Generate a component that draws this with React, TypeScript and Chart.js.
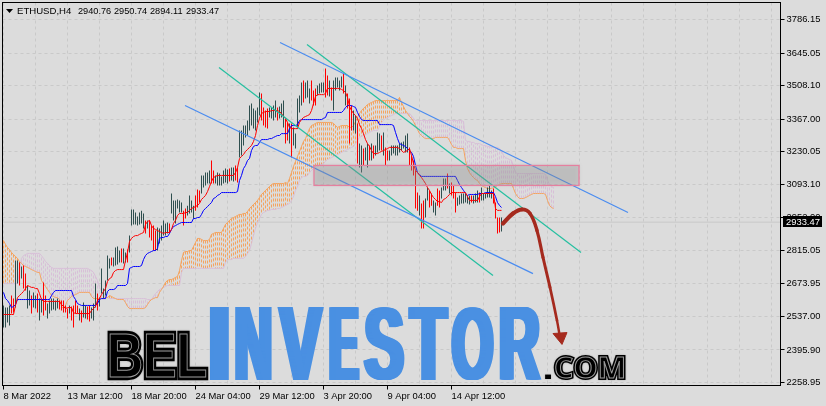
import React, { useEffect, useRef } from "react";
import { Chart, registerables } from "chart.js";

Chart.register(...registerables);

const symbolTitle = "ETHUSD,H4";
const quoteValues = ["2940.76", "2950.74", "2894.11", "2933.47"];
const lastPrice = 2933.47;
const priceTicks = [2258.95, 2395.9, 2537, 2673.95, 2815.05, 2952, 3093.1, 3230.05, 3367, 3508.1, 3645.05, 3786.15];
const timeLabels = ["8 Mar 2022", "13 Mar 12:00", "18 Mar 20:00", "24 Mar 04:00", "29 Mar 12:00", "3 Apr 20:00", "9 Apr 04:00", "14 Apr 12:00"];

const barHighs = [
  2583, 2574, 2574, 2583, 2625, 2612, 2772, 2772, 2764, 2747,
  2751, 2717, 2667, 2646, 2625, 2638, 2625, 2633, 2612, 2612,
  2680, 2625, 2591, 2604, 2612, 2612, 2604, 2612, 2604, 2604,
  2604, 2583, 2570, 2583, 2579, 2583, 2604, 2583, 2570, 2562,
  2595, 2583, 2579, 2583, 2574, 2591, 2675, 2633, 2616, 2738,
  2654, 2688, 2793, 2781, 2785, 2785, 2827, 2831, 2814, 2823,
  2823, 2806, 2818, 2877, 2987, 2987, 2974, 2957, 2974, 2982,
  2970, 2940, 2940, 2940, 2919, 2919, 2898, 2911, 2907, 2919,
  2940, 2928, 2932, 2928, 3054, 3025, 3025, 3029, 3025, 3016,
  2982, 2991, 3003, 3046, 3025, 3003, 3046, 3071, 3067, 3130,
  3130, 3142, 3142, 3151, 3193, 3151, 3130, 3142, 3138, 3126,
  3151, 3159, 3155, 3159, 3163, 3163, 3172, 3163, 3319, 3319,
  3340, 3340, 3361, 3424, 3433, 3412, 3403, 3416, 3479, 3475,
  3416, 3403, 3412, 3416, 3416, 3424, 3445, 3416, 3420, 3433,
  3445, 3370, 3353, 3349, 3349, 3332, 3306, 3454, 3466, 3521,
  3529, 3521, 3529, 3496, 3529, 3487, 3496, 3508, 3517, 3521,
  3521, 3580, 3550, 3529, 3500, 3529, 3542, 3542, 3529, 3546,
  3559, 3508, 3475, 3454, 3424, 3403, 3382, 3349, 3264, 3256,
  3243, 3248, 3264, 3256, 3264, 3256, 3256, 3311, 3306, 3298,
  3311, 3248, 3235, 3235, 3256, 3256, 3256, 3256, 3264, 3269,
  3273, 3298, 3306, 3248, 3214, 3193, 3151, 3058, 3046, 3012,
  3025, 3033, 3079, 3067, 3054, 3025, 3016, 3075, 3067, 3079,
  3117, 3117, 3138, 3096, 3100, 3088, 3058, 3037, 3046, 3054,
  3054, 3054, 3046, 3046, 3046, 3046, 3054, 3067, 3058, 3079,
  3054, 3054, 3079, 3088, 3067, 3075, 3016, 2953, 2953, 2953,
];

const barLows = [
  2490, 2490, 2511, 2499, 2549, 2553, 2574, 2675, 2667, 2696,
  2654, 2646, 2570, 2583, 2549, 2574, 2570, 2553, 2520, 2553,
  2541, 2562, 2528, 2549, 2562, 2566, 2562, 2570, 2566, 2562,
  2553, 2553, 2528, 2549, 2520, 2490, 2549, 2549, 2520, 2511,
  2532, 2528, 2524, 2516, 2528, 2520, 2574, 2562, 2579, 2633,
  2612, 2625, 2688, 2738, 2751, 2747, 2751, 2755, 2764, 2764,
  2760, 2764, 2764, 2806, 2919, 2924, 2924, 2919, 2924, 2928,
  2907, 2886, 2907, 2869, 2856, 2814, 2814, 2814, 2844, 2856,
  2877, 2877, 2886, 2886, 2970, 2940, 2928, 2991, 2974, 2974,
  2919, 2949, 2961, 2970, 2974, 2949, 2982, 2995, 3016, 3054,
  3079, 3088, 3096, 3096, 3096, 3096, 3096, 3088, 3088, 3088,
  3096, 3100, 3096, 3105, 3109, 3105, 3109, 3100, 3205, 3214,
  3256, 3290, 3298, 3319, 3340, 3327, 3319, 3353, 3382, 3361,
  3340, 3332, 3327, 3374, 3370, 3361, 3374, 3361, 3370, 3374,
  3332, 3264, 3277, 3264, 3205, 3256, 3243, 3327, 3395, 3424,
  3437, 3454, 3458, 3433, 3445, 3424, 3424, 3466, 3475, 3479,
  3479, 3458, 3466, 3462, 3445, 3403, 3487, 3500, 3487, 3500,
  3475, 3424, 3412, 3264, 3319, 3319, 3306, 3180, 3163, 3142,
  3172, 3193, 3163, 3193, 3193, 3201, 3214, 3227, 3235, 3235,
  3214, 3172, 3193, 3193, 3214, 3222, 3214, 3214, 3227, 3235,
  3243, 3227, 3227, 3172, 3151, 3130, 2991, 2982, 2961, 2907,
  2907, 2953, 3025, 2995, 3003, 2974, 2961, 3003, 2995, 3033,
  3067, 3067, 3075, 3054, 3046, 3033, 2974, 3003, 3008, 3012,
  3012, 3016, 3012, 3008, 3016, 3012, 3016, 3016, 3016, 3025,
  3025, 3033, 3037, 3037, 3033, 3012, 2949, 2886, 2890, 2894,
];

const barDirections = (
  "ddddrrddrd" + "rrddrddrdd" + "rrddddddrr" + "rrrdrrrrdr" + "ddrrdddrdd" +
  "ddddrddddr" + "ddrddddddd" + "drdrrrrddd" + "dddrdddddd" + "rrddddrrrd" +
  "ddddrrdddd" + "dddrddrrdd" + "dddddddddr" + "rrrddddrdd" + "drrdrddddd" +
  "rdddrrrddd" + "drrdrddddd" + "rdrrrddrdd" + "rddrdrdddr" + "drrddddddd" +
  "dddrrrrrdr" + "rddrrddrrd" + "ddrdrrrddd" + "ddddrdddrd" + "dddddrrrrd"
).split("");

const tenkan = [
  2545, 2545, 2545, 2545, 2545, 2545, 2583, 2616, 2625, 2633,
  2642, 2654, 2667, 2663, 2659, 2659, 2654, 2654, 2633, 2608,
  2600, 2600, 2600, 2600, 2600, 2600, 2600, 2600, 2600, 2587,
  2579, 2570, 2574, 2574, 2574, 2553, 2549, 2549, 2549, 2549,
  2549, 2549, 2549, 2549, 2562, 2570, 2579, 2604, 2612, 2629,
  2642, 2654, 2684, 2696, 2701, 2722, 2730, 2734, 2734, 2734,
  2734, 2772, 2806, 2852, 2865, 2873, 2877, 2877, 2882, 2886,
  2890, 2924, 2936, 2941, 2919, 2907, 2903, 2898, 2894, 2890,
  2886, 2890, 2890, 2890, 2903, 2928, 2941, 2962, 2970, 2970,
  2970, 2974, 2974, 2983, 2991, 2995, 2999, 3004, 3012, 3029,
  3037, 3046, 3062, 3083, 3105, 3121, 3126, 3130, 3130, 3130,
  3130, 3130, 3130, 3130, 3130, 3130, 3142, 3163, 3201, 3210,
  3218, 3231, 3239, 3248, 3256, 3273, 3298, 3340, 3370, 3391,
  3395, 3399, 3399, 3399, 3403, 3403, 3403, 3403, 3399, 3391,
  3378, 3370, 3353, 3332, 3327, 3327, 3327, 3327, 3353, 3365,
  3374, 3378, 3382, 3386, 3403, 3433, 3462, 3470, 3470, 3470,
  3470, 3475, 3496, 3496, 3496, 3496, 3496, 3496, 3496, 3492,
  3487, 3479, 3458, 3420, 3403, 3391, 3382, 3370, 3344, 3327,
  3306, 3281, 3264, 3252, 3235, 3222, 3222, 3222, 3227, 3231,
  3235, 3239, 3243, 3248, 3248, 3248, 3248, 3248, 3243, 3235,
  3227, 3231, 3235, 3243, 3214, 3180, 3151, 3142, 3130, 3121,
  3109, 3096, 3079, 3067, 3050, 3037, 3029, 3020, 3020, 3016,
  3029, 3033, 3041, 3050, 3058, 3058, 3058, 3058, 3058, 3058,
  3058, 3058, 3041, 3025, 3025, 3025, 3025, 3025, 3041, 3054,
  3054, 3054, 3054, 3054, 3054, 3054, 2991, 2983, 2983, 2983,
];

const kijun = [
  2638, 2612, 2604, 2591, 2574, 2579, 2587, 2608, 2608, 2608,
  2608, 2608, 2608, 2608, 2608, 2608, 2608, 2608, 2608, 2608,
  2608, 2608, 2608, 2608, 2625, 2638, 2646, 2646, 2646, 2646,
  2646, 2646, 2646, 2646, 2646, 2621, 2608, 2591, 2587, 2583,
  2583, 2583, 2583, 2583, 2583, 2583, 2583, 2591, 2608, 2612,
  2612, 2612, 2642, 2650, 2650, 2650, 2654, 2667, 2667, 2667,
  2667, 2667, 2675, 2739, 2743, 2747, 2747, 2747, 2747, 2751,
  2776, 2793, 2802, 2806, 2810, 2814, 2814, 2823, 2865, 2869,
  2869, 2873, 2873, 2886, 2903, 2915, 2919, 2924, 2928, 2932,
  2932, 2932, 2932, 2932, 2932, 2949, 2949, 2953, 2953, 2966,
  2983, 2991, 2999, 3008, 3016, 3033, 3037, 3046, 3050, 3058,
  3058, 3058, 3058, 3058, 3058, 3058, 3058, 3062, 3109, 3130,
  3159, 3172, 3193, 3201, 3235, 3252, 3256, 3256, 3269, 3281,
  3281, 3281, 3281, 3285, 3285, 3290, 3294, 3298, 3298, 3306,
  3306, 3306, 3306, 3327, 3340, 3340, 3340, 3344, 3361, 3365,
  3365, 3365, 3365, 3365, 3365, 3365, 3365, 3365, 3365, 3365,
  3370, 3374, 3395, 3395, 3395, 3395, 3395, 3395, 3395, 3395,
  3403, 3416, 3424, 3424, 3424, 3420, 3416, 3395, 3378, 3365,
  3361, 3361, 3361, 3361, 3361, 3361, 3361, 3361, 3344, 3344,
  3344, 3344, 3344, 3344, 3344, 3340, 3311, 3285, 3264, 3260,
  3256, 3252, 3243, 3235, 3227, 3210, 3172, 3142, 3134, 3126,
  3126, 3126, 3126, 3126, 3126, 3126, 3126, 3126, 3126, 3126,
  3126, 3126, 3126, 3126, 3126, 3126, 3126, 3109, 3092, 3079,
  3067, 3054, 3046, 3050, 3050, 3050, 3050, 3050, 3054, 3054,
  3054, 3058, 3058, 3058, 3058, 3058, 3041, 3016, 3004, 2995,
];

const senkouA = [
  2856, 2840, 2827, 2818, 2806, 2797, 2789, 2781, 2768, 2760,
  2751, 2747, 2743, 2739, 2734, 2730, 2726, 2722, 2722, 2688,
  2675, 2663, 2650, 2638, 2625, 2621, 2616, 2616, 2608, 2579,
  2570, 2583, 2604, 2612, 2621, 2625, 2629, 2633, 2638, 2638,
  2638, 2638, 2638, 2638, 2621, 2612, 2612, 2612, 2612, 2612,
  2612, 2616, 2616, 2625, 2621, 2616, 2612, 2608, 2608, 2608,
  2608, 2595, 2579, 2570, 2570, 2570, 2570, 2570, 2570, 2570,
  2570, 2574, 2587, 2600, 2608, 2612, 2616, 2616, 2638, 2650,
  2663, 2680, 2688, 2692, 2692, 2696, 2701, 2705, 2730, 2772,
  2806, 2810, 2810, 2814, 2814, 2831, 2848, 2865, 2865, 2861,
  2856, 2856, 2856, 2861, 2882, 2886, 2890, 2890, 2890, 2890,
  2907, 2924, 2932, 2941, 2949, 2953, 2957, 2962, 2966, 2966,
  2970, 2970, 2978, 2991, 2999, 3008, 3016, 3025, 3037, 3050,
  3058, 3067, 3075, 3083, 3092, 3096, 3096, 3096, 3096, 3096,
  3096, 3100, 3096, 3117, 3142, 3168, 3189, 3210, 3231, 3252,
  3273, 3285, 3306, 3327, 3340, 3344, 3349, 3353, 3353, 3353,
  3353, 3353, 3353, 3353, 3353, 3349, 3340, 3332, 3336, 3340,
  3340, 3340, 3340, 3332, 3332, 3340, 3357, 3374, 3391, 3403,
  3412, 3420, 3428, 3433, 3437, 3441, 3445, 3445, 3445, 3445,
  3445, 3445, 3445, 3445, 3445, 3445, 3445, 3445, 3458, 3437,
  3420, 3403, 3391, 3378, 3370, 3357, 3340, 3323, 3306, 3298,
  3290, 3285, 3285, 3285, 3285, 3285, 3290, 3290, 3290, 3290,
  3290, 3290, 3290, 3277, 3260, 3248, 3248, 3243, 3243, 3243,
  3243, 3193, 3159, 3142, 3130, 3121, 3113, 3109, 3096, 3088,
  3083, 3079, 3075, 3075, 3075, 3079, 3083, 3088, 3092, 3096,
  3096, 3096, 3096, 3096, 3096, 3075, 3054, 3041, 3033, 3033,
  3033, 3037, 3041, 3046, 3050, 3054, 3054, 3054, 3054, 3054,
  3054, 3050, 3025, 3004, 2995, 2991,
];

const senkouB = [
  2675, 2675, 2675, 2675, 2675, 2675, 2675, 2675, 2730, 2781,
  2793, 2797, 2802, 2802, 2802, 2802, 2802, 2802, 2802, 2793,
  2781, 2768, 2760, 2751, 2743, 2739, 2739, 2739, 2739, 2739,
  2739, 2739, 2739, 2739, 2739, 2739, 2739, 2739, 2739, 2739,
  2739, 2739, 2739, 2734, 2730, 2722, 2705, 2688, 2659, 2642,
  2625, 2621, 2616, 2612, 2612, 2612, 2612, 2612, 2612, 2612,
  2612, 2612, 2612, 2612, 2612, 2612, 2612, 2612, 2612, 2612,
  2612, 2612, 2608, 2608, 2608, 2621, 2633, 2642, 2650, 2654,
  2659, 2663, 2667, 2667, 2667, 2667, 2667, 2667, 2667, 2722,
  2739, 2739, 2739, 2739, 2739, 2739, 2739, 2739, 2739, 2739,
  2739, 2739, 2739, 2739, 2739, 2739, 2739, 2739, 2739, 2739,
  2739, 2764, 2776, 2776, 2776, 2781, 2781, 2781, 2781, 2781,
  2781, 2789, 2802, 2814, 2844, 2877, 2907, 2932, 2949, 2966,
  2974, 2978, 2983, 2983, 2987, 2987, 2987, 2991, 2991, 2995,
  2999, 3004, 3008, 3012, 3025, 3041, 3067, 3083, 3109, 3121,
  3126, 3126, 3130, 3142, 3151, 3159, 3163, 3168, 3172, 3176,
  3180, 3189, 3197, 3201, 3205, 3210, 3214, 3218, 3222, 3227,
  3231, 3235, 3239, 3243, 3248, 3252, 3264, 3277, 3290, 3294,
  3298, 3302, 3306, 3311, 3315, 3319, 3319, 3319, 3336, 3353,
  3361, 3370, 3374, 3378, 3382, 3386, 3391, 3391, 3391, 3391,
  3391, 3391, 3391, 3391, 3382, 3370, 3361, 3361, 3361, 3361,
  3361, 3361, 3361, 3361, 3361, 3361, 3361, 3361, 3361, 3361,
  3361, 3361, 3361, 3361, 3361, 3361, 3361, 3361, 3361, 3361,
  3357, 3277, 3273, 3273, 3269, 3269, 3264, 3264, 3264, 3260,
  3256, 3256, 3252, 3252, 3248, 3248, 3248, 3248, 3243, 3235,
  3214, 3205, 3201, 3197, 3193, 3168, 3142, 3138, 3138, 3138,
  3138, 3138, 3138, 3138, 3138, 3138, 3138, 3138, 3138, 3138,
  3138, 3134, 3109, 3092, 3083, 3079,
];

const blueChannelUpper = [{ x: 138.25, y: 3689 }, { x: 312.25, y: 2974 }];
const blueChannelLower = [{ x: 90.75, y: 3424 }, { x: 264.75, y: 2717 }];
const greenChannelUpper = [{ x: 151.75, y: 3681 }, { x: 288.75, y: 2806 }];
const greenChannelLower = [{ x: 107.75, y: 3584 }, { x: 244.75, y: 2709 }];
const zoneBars = [155.25, 287.75];
const zonePrices = [3172, 3088];
const forecastPath = [
  { x: 249.75, y: 2928 }, { x: 254.75, y: 2970 }, { x: 259.25, y: 2987 },
  { x: 263.25, y: 2970 }, { x: 266.75, y: 2898 }, { x: 269.75, y: 2785 },
  { x: 273.25, y: 2659 }, { x: 276.75, y: 2520 }, { x: 278.25, y: 2448 },
];
const forecastHead = [{ x: 274.75, y: 2465 }, { x: 281.75, y: 2469 }, { x: 279.25, y: 2419 }, { x: 274.75, y: 2465 }];

const BG = "#dcdcdc";
const TEXT_FONT = "'Liberation Sans', Arial, sans-serif";
const tickBars = Array.from({ length: 25 }, (_, k) => k * 16);

function series(values: number[]) {
  return values.map((y, x) => ({ x, y }));
}
function hatch(orangeSide: boolean) {
  const out: { x: number; y: number | null }[] = [];
  senkouA.forEach((a, i) => {
    const b = senkouB[i];
    if (a >= b === orangeSide) {
      out.push({ x: i, y: a }, { x: i, y: b }, { x: i, y: null });
    }
  });
  return out;
}
function lineDs(data: any[], color: string, width: number, order: number, extra: any = {}) {
  return {
    type: "line", data, borderColor: color, backgroundColor: color, borderWidth: width,
    pointRadius: 0, fill: false, tension: 0, order, ...extra,
  };
}

function fitText(ctx: CanvasRenderingContext2D, text: string, font: string, x0: number, y0: number, x1: number, y1: number, paint: (c: CanvasRenderingContext2D, sx: number) => void) {
  ctx.save();
  ctx.font = font;
  ctx.textAlign = "left";
  ctx.textBaseline = "alphabetic";
  const m = ctx.measureText(text);
  const w = m.actualBoundingBoxRight + m.actualBoundingBoxLeft;
  const h = m.actualBoundingBoxAscent + m.actualBoundingBoxDescent;
  const sx = (x1 - x0) / w;
  const sy = (y1 - y0) / h;
  ctx.translate(x0 + m.actualBoundingBoxLeft * sx, y1 - m.actualBoundingBoxDescent * sy);
  ctx.scale(sx, sy);
  ctx.lineJoin = "miter";
  paint(ctx, sx);
  ctx.restore();
}

const investorLetters = "INVESTOR".split("");
const investorEdges = [[209.5, 229], [235, 272], [277, 324], [329, 360], [363, 405], [407.5, 449.5], [451, 494], [499.5, 542]];

function zeroPadding(s: any) {
  s.paddingLeft = 0;
  s.paddingRight = 0;
  s.paddingTop = 0;
  s.paddingBottom = 0;
}

const framePlugin = {
  id: "frame",
  beforeDraw(chart: any) {
    const { ctx, width, height } = chart;
    ctx.save();
    ctx.fillStyle = BG;
    ctx.fillRect(0, 0, width, height);
    ctx.restore();
  },
  afterDatasetsDraw(chart: any) {
    const { ctx, scales } = chart;
    const X = scales.x, Y = scales.y;
    // supply zone
    const zx = X.getPixelForValue(zoneBars[0]);
    const zw = X.getPixelForValue(zoneBars[1]) - zx;
    const zy = Y.getPixelForValue(zonePrices[0]);
    const zh = Y.getPixelForValue(zonePrices[1]) - zy;
    ctx.save();
    ctx.shadowColor = "rgba(90,90,90,0.5)";
    ctx.shadowBlur = 4;
    ctx.fillStyle = "rgba(150,150,150,0.26)";
    ctx.fillRect(zx, zy, zw, zh);
    ctx.shadowColor = "transparent";
    ctx.strokeStyle = "#e5809f";
    ctx.lineWidth = 1.3;
    ctx.strokeRect(zx, zy, zw, zh);
    ctx.restore();

    // logo
    ctx.save();
    investorLetters.forEach((letter, k) => {
      const [l, r] = investorEdges[k];
      const heavy = k === 0 ? 2 : 3;
      fitText(ctx, letter, "bold 80px 'Liberation Sans Narrow', 'Liberation Sans', sans-serif", l + heavy, 307, r - heavy, 380, (c, sx) => {
        c.fillStyle = "#4a90e2";
        for (let d = -heavy; d <= heavy; d += 1) {
          c.fillText(letter, d / sx, 0);
        }
      });
    });
    ctx.shadowColor = "rgba(0,0,0,0.25)";
    ctx.shadowBlur = 2;
    const outlined = (text: string, outer: number) => (c: CanvasRenderingContext2D) => {
      c.fillStyle = "#000";
      c.strokeStyle = "#000";
      c.lineWidth = outer;
      c.strokeText(text, 0, 0);
      c.fillText(text, 0, 0);
      c.strokeStyle = "#9a9a9a";
      c.lineWidth = 1;
      c.strokeText(text, 0, 0);
    };
    fitText(ctx, "BEL", "bold 60px 'Liberation Sans', sans-serif", 110, 334, 206, 377, outlined("BEL", 6));
    fitText(ctx, "COM", "bold 30px 'Open Sans', 'Liberation Sans', sans-serif", 555, 357, 624, 378, outlined("COM", 4));
    fitText(ctx, ".", "bold 30px 'Liberation Sans', sans-serif", 545, 374, 552, 379, (c) => {
      c.fillStyle = "#000";
      c.fillText(".", 0, 0);
    });
    ctx.restore();
  },
  afterDraw(chart: any) {
    const { ctx, scales, chartArea: a } = chart;
    ctx.save();
    ctx.strokeStyle = "#000";
    ctx.lineWidth = 1;
    ctx.strokeRect(a.left, a.top, a.right - a.left, a.bottom - a.top);
    ctx.textBaseline = "middle";
    ctx.textAlign = "left";
    ctx.fillStyle = "#000";
    ctx.font = `9.6px ${TEXT_FONT}`;
    ctx.fillText(symbolTitle, 17, 11);
    ctx.font = `9.2px ${TEXT_FONT}`;
    [78, 114, 150, 186].forEach((tx, k) => ctx.fillText(quoteValues[k], tx, 11));
    ctx.beginPath();
    ctx.moveTo(6, 9);
    ctx.lineTo(13, 9);
    ctx.lineTo(9.5, 13);
    ctx.closePath();
    ctx.fill();
    // last price tag
    const py = scales.y.getPixelForValue(lastPrice);
    ctx.fillStyle = "#000";
    ctx.fillRect(783, Math.round(py) - 6, 39, 11);
    ctx.fillStyle = "#fff";
    ctx.font = `9.4px ${TEXT_FONT}`;
    ctx.fillText(lastPrice.toFixed(2), 786, Math.round(py));
    ctx.restore();
  },
};

export default function App() {
  const ref = useRef<HTMLCanvasElement | null>(null);
  useEffect(() => {
    const canvas = ref.current;
    if (!canvas) return;
    const bars = barHighs.map((h, i) => ({ x: i, y: [barLows[i], h] }));
    const chart = new Chart(canvas, {
      type: "line",
      data: {
        datasets: [
          lineDs(forecastPath, "#a52a1e", 3, 1, {
            tension: 0.4,
            borderCapStyle: "round",
            segment: { borderWidth: (c: any) => 4.2 - c.p0DataIndex * 0.25 },
          }),
          lineDs(forecastHead, "#a52a1e", 1, 1, { fill: "shape", backgroundColor: "#a52a1e" }),
          lineDs(blueChannelUpper, "#4a8cf0", 1.2, 3),
          lineDs(blueChannelLower, "#4a8cf0", 1.2, 3),
          lineDs(greenChannelUpper, "#25bfa0", 1.2, 3),
          lineDs(greenChannelLower, "#25bfa0", 1.2, 3),
          lineDs(series(tenkan), "#ff0000", 1, 5),
          lineDs(series(kijun), "#0000ff", 1, 6),
          {
            type: "bar", data: bars, barThickness: 1, borderWidth: 0, inflateAmount: 0, order: 8,
            backgroundColor: barDirections.map((d) => (d === "r" ? "#ff0000" : "#2f4f4f")),
          },
          lineDs(series(senkouA), "#f4a460", 1, 9),
          lineDs(series(senkouB), "#d8bfd8", 1, 9),
          lineDs(hatch(true), "#f4a460", 1, 10, { borderDash: [3, 2], spanGaps: false }),
          lineDs(hatch(false), "#d8bfd8", 1, 10, { borderDash: [3, 2], spanGaps: false }),
          lineDs([{ x: -0.5, y: lastPrice }, { x: 388.5, y: lastPrice }], "#c8c8c8", 1, 11),
        ] as any,
      },
      options: {
        responsive: false,
        animation: false,
        layout: { padding: { left: 2.5, top: 2.5, right: 0, bottom: 0 } },
        plugins: { legend: { display: false }, tooltip: { enabled: false } },
        events: [],
        scales: {
          x: {
            type: "linear",
            min: -0.5,
            max: 388.5,
            offset: false,
            afterBuildTicks: (s: any) => { s.ticks = tickBars.map((value) => ({ value })); },
            afterFit: (s: any) => { s.height = 20.5; zeroPadding(s); },
            grid: {
              offset: false,
              color: "#c9c9c9",
              drawTicks: true,
              tickLength: 4,
              tickColor: (c: any) => (c.index % 2 === 0 && c.index <= 14 ? "#000" : "rgba(0,0,0,0)"),
            },
            border: { display: true, color: "#000", dash: [3, 3] },
            ticks: {
              autoSkip: false,
              maxRotation: 0,
              minRotation: 0,
              align: "start",
              padding: 1,
              color: "#000",
              font: { family: TEXT_FONT, size: 9.4 },
              callback: (_v: any, idx: number) => (idx % 2 === 0 ? timeLabels[idx / 2] ?? "" : ""),
            },
          },
          y: {
            type: "linear",
            position: "right",
            min: 2246.3,
            max: 3857.6,
            afterBuildTicks: (s: any) => { s.ticks = priceTicks.map((value) => ({ value })); },
            afterFit: (s: any) => { s.width = 45.5; zeroPadding(s); },
            grid: { color: "#c9c9c9", tickLength: 4, tickColor: "#000" },
            border: { display: true, color: "#000", dash: [3, 3] },
            ticks: {
              autoSkip: false,
              padding: 2,
              color: "#000",
              font: { family: TEXT_FONT, size: 9.4 },
              callback: (v: any) => Number(v).toFixed(2),
            },
          },
        },
      } as any,
      plugins: [framePlugin],
    } as any);
    return () => chart.destroy();
  }, []);
  return (
    <div style={{ position: "fixed", left: 0, top: 0, width: 826, height: 406, background: BG, overflow: "hidden" }}>
      <canvas ref={ref} width={826} height={406} style={{ display: "block", width: 826, height: 406 }} />
    </div>
  );
}
